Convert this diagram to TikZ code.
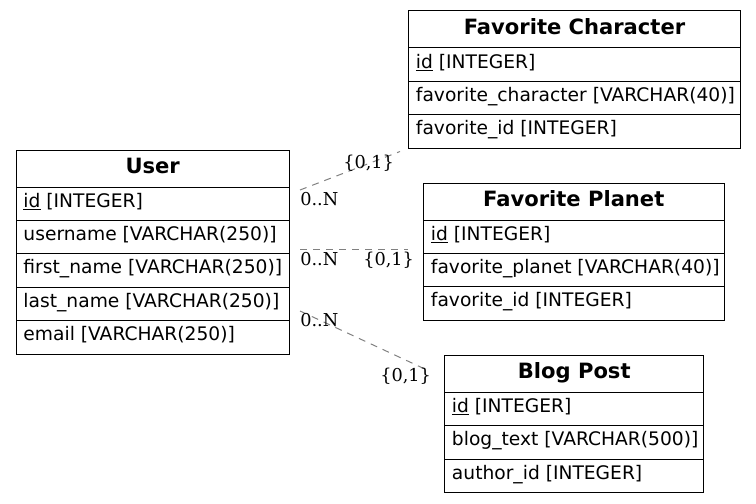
\documentclass[tikz,border=0pt]{standalone}
\usepackage{fontspec}
\setmainfont{DejaVu Sans}
\newfontfamily\lblfont{DejaVu Serif}
\begin{document}
\begin{tikzpicture}[x=0.75pt,y=-0.75pt,
  every node/.style={font=\fontsize{14pt}{16pt}\selectfont},
  hcell/.style={draw, line width=0.75pt, anchor=north west, inner sep=0pt, outer sep=0pt, minimum height=27.75pt, minimum width=#1},
  rcell/.style={draw, line width=0.75pt, anchor=north, inner sep=0pt, outer sep=0pt, minimum height=25.05pt, minimum width=#1},
  htext/.style={font=\fontsize{15.8pt}{18pt}\selectfont\bfseries, anchor=base, yshift=10.3pt, inner sep=0pt},
  rtext/.style={anchor=base west, xshift=5.4pt, yshift=10pt, inner sep=0pt},
  rel/.style={draw={rgb,255:red,128;green,128;blue,128}, line width=0.75pt, dash pattern=on 5.25pt off 4.5pt},
  card/.style={font=\fontsize{13.3pt}{15pt}\selectfont\lblfont, anchor=base west, inner sep=0pt}
]
\useasboundingbox (0,0) rectangle (756,503);

% User
\node[hcell=205.1pt] (uh) at (16,150) {};
\node[htext] (uht) at (uh.south) {User};
\node[rcell=205.1pt] (u1) at (uh.south) {};
\node[rcell=205.1pt] (u2) at (u1.south) {};
\node[rcell=205.1pt] (u3) at (u2.south) {};
\node[rcell=205.1pt] (u4) at (u3.south) {};
\node[rcell=205.1pt] (u5) at (u4.south) {};
\node[rtext] (u1t) at (u1.south west) {\underline{id} [INTEGER]};
\node[rtext] (u2t) at (u2.south west) {username [VARCHAR(250)]};
\node[rtext] (u3t) at (u3.south west) {first\_name [VARCHAR(250)]};
\node[rtext] (u4t) at (u4.south west) {last\_name [VARCHAR(250)]};
\node[rtext] (u5t) at (u5.south west) {email [VARCHAR(250)]};

% Favorite Character
\node[hcell=249pt] (ch) at (408.5,11) {};
\node[htext] (cht) at (ch.south) {Favorite Character};
\node[rcell=249pt] (c1) at (ch.south) {};
\node[rcell=249pt] (c2) at (c1.south) {};
\node[rcell=249pt] (c3) at (c2.south) {};
\node[rtext] (c1t) at (c1.south west) {\underline{id} [INTEGER]};
\node[rtext] (c2t) at (c2.south west) {favorite\_character [VARCHAR(40)]};
\node[rtext] (c3t) at (c3.south west) {favorite\_id [INTEGER]};

% Favorite Planet
\node[hcell=225.4pt] (ph) at (423.5,183) {};
\node[htext] (pht) at (ph.south) {Favorite Planet};
\node[rcell=225.4pt] (p1) at (ph.south) {};
\node[rcell=225.4pt] (p2) at (p1.south) {};
\node[rcell=225.4pt] (p3) at (p2.south) {};
\node[rtext] (p1t) at (p1.south west) {\underline{id} [INTEGER]};
\node[rtext] (p2t) at (p2.south west) {favorite\_planet [VARCHAR(40)]};
\node[rtext] (p3t) at (p3.south west) {favorite\_id [INTEGER]};

% Blog Post
\node[hcell=194.6pt] (bh) at (444.5,355.5) {};
\node[htext] (bht) at (bh.south) {Blog Post};
\node[rcell=194.6pt] (b1) at (bh.south) {};
\node[rcell=194.6pt] (b2) at (b1.south) {};
\node[rcell=194.6pt] (b3) at (b2.south) {};
\node[rtext] (b1t) at (b1.south west) {\underline{id} [INTEGER]};
\node[rtext] (b2t) at (b2.south west) {blog\_text [VARCHAR(500)]};
\node[rtext] (b3t) at (b3.south west) {author\_id [INTEGER]};

% relations
\coordinate (e1s) at (300,190);
\coordinate (e1t) at (400,151.5);
\coordinate (e2s) at (300,249);
\coordinate (e2t) at (408,249);
\coordinate (e3s) at (300,311);
\coordinate (e3t) at (427,370);
\draw[rel] (e1s) -- (e1t);
\draw[rel] (e2s) -- (e2t);
\draw[rel] (e3s) -- (e3t);

\node[card] (l1a) at (300,205) {0..N};
\node[card] (l1b) at (343,168.7) {\{0,1\}};
\node[card] (l2a) at (300,265) {0..N};
\node[card] (l2b) at (363,265) {\{0,1\}};
\node[card] (l3a) at (300,326.7) {0..N};
\node[card] (l3b) at (380,381) {\{0,1\}};
\end{tikzpicture}
\end{document}
